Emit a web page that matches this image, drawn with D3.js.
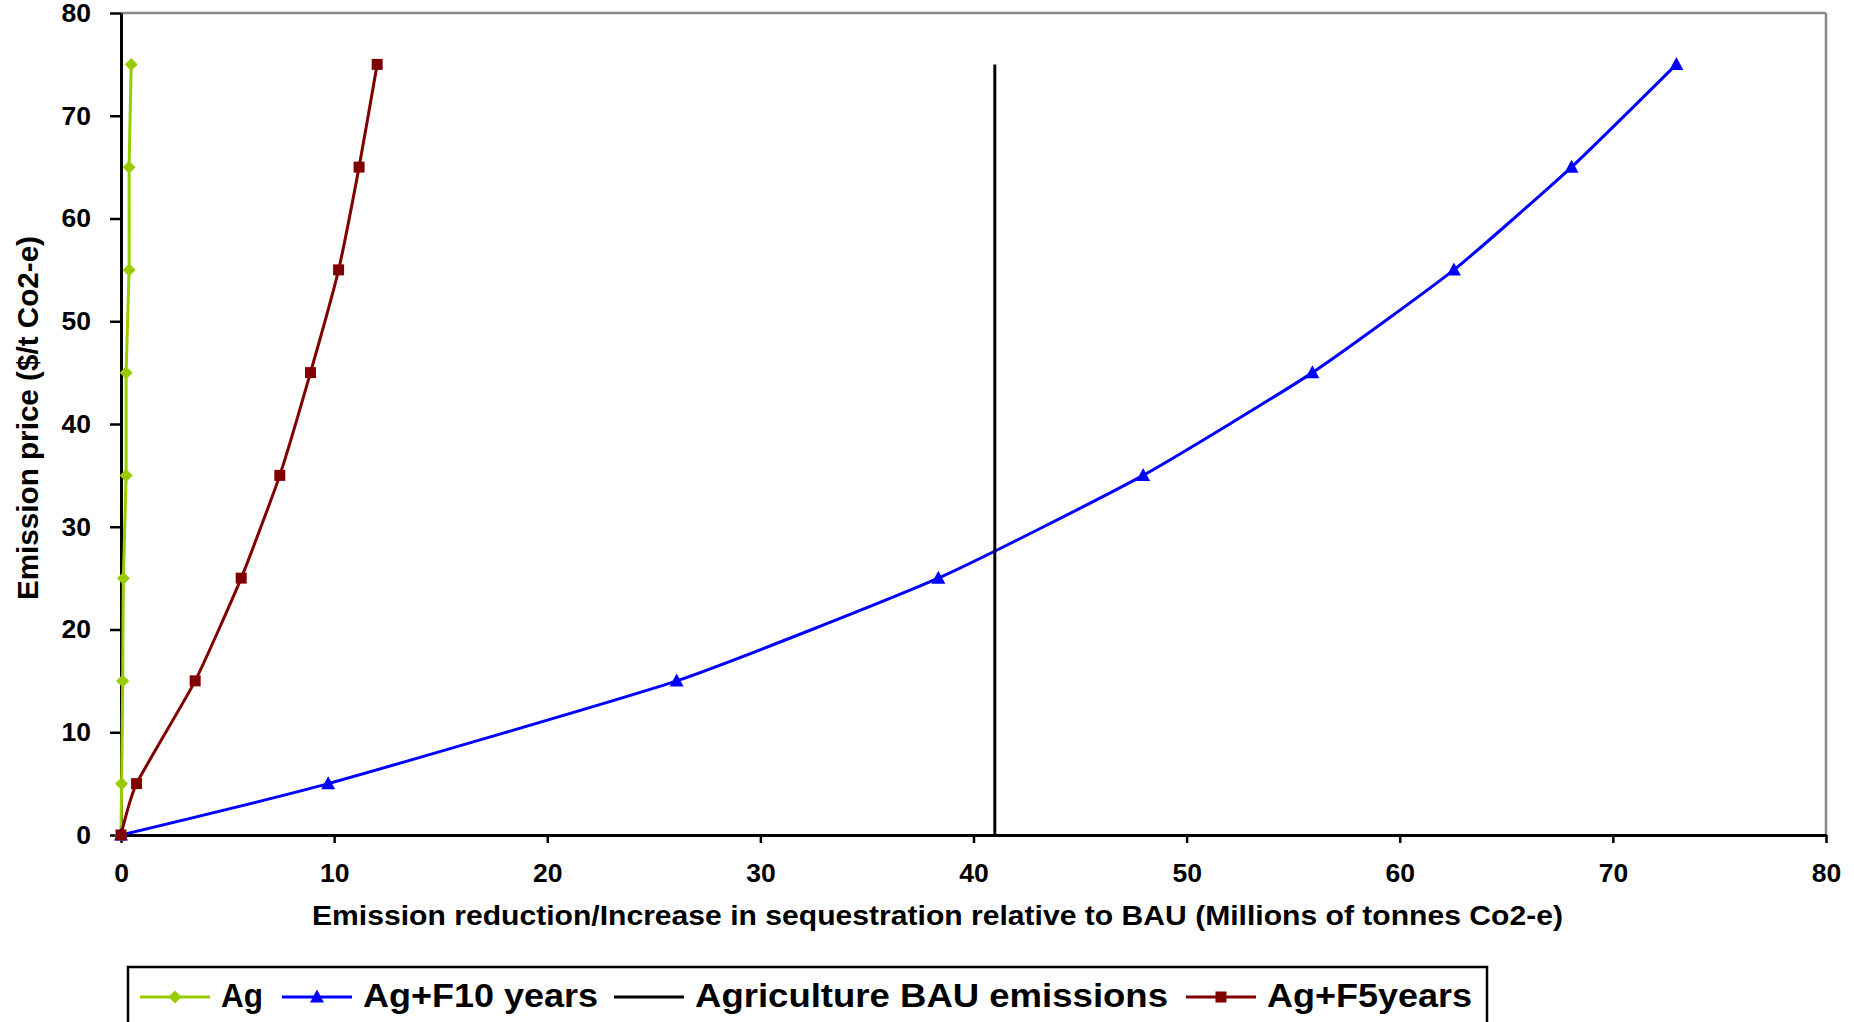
<!DOCTYPE html>
<html>
<head>
<meta charset="utf-8">
<script src="https://cdn.jsdelivr.net/npm/d3@7"></script>
<style>
  html, body { margin: 0; padding: 0; background: #fff; overflow: hidden; }
  svg { display: block; font-family: "Liberation Sans", Arial, sans-serif; }
</style>
</head>
<body>
<svg id="chart" width="1854" height="1022"></svg>
<script>
// ---- Data ----
const prices = [0, 5, 15, 25, 35, 45, 55, 65, 75];
const agValues = [0, 0.03, 0.08, 0.11, 0.24, 0.24, 0.38, 0.38, 0.48];
const agF10Values = [0, 9.72, 26.07, 38.35, 47.96, 55.9, 62.54, 68.06, 72.98];
const agF5Values = [0, 0.73, 3.48, 5.64, 7.45, 8.89, 10.21, 11.17, 12.02];
const bauX = [41, 41];
const bauY = [0, 75];
const xTicks = [0, 10, 20, 30, 40, 50, 60, 70, 80];
const yTicks = [0, 10, 20, 30, 40, 50, 60, 70, 80];
const seriesNames = ["Ag", "Ag+F10 years", "Agriculture BAU emissions", "Ag+F5years"];
const xTitle = "Emission reduction/Increase in sequestration relative to BAU (Millions of tonnes Co2-e)";
const yTitle = "Emission price ($/t Co2-e)";

// ---- Layout ----
const svg = d3.select("#chart");
const L = 121, R = 1826, T = 13, B = 835;
const x = d3.scaleLinear().domain([0, 80]).range([L, R]);
const y = d3.scaleLinear().domain([0, 80]).range([B, T]);

const colors = { ag: "#99CC00", f10: "#0000FF", bau: "#000000", f5: "#800000" };

// plot frame (gray top/right)
svg.append("line").attr("x1", L).attr("x2", R).attr("y1", T).attr("y2", T)
  .attr("stroke", "#888").attr("stroke-width", 2.5);
svg.append("line").attr("x1", R).attr("x2", R).attr("y1", T).attr("y2", B)
  .attr("stroke", "#888").attr("stroke-width", 2.5);

// axes
const xAxis = svg.append("g").attr("transform", `translate(0,${B})`)
  .call(d3.axisBottom(x).tickValues(xTicks).tickSize(8).tickPadding(20).tickSizeOuter(0));
const yAxis = svg.append("g").attr("transform", `translate(${L},0)`)
  .call(d3.axisLeft(y).tickValues(yTicks).tickSize(11).tickPadding(19).tickSizeOuter(0));
[xAxis, yAxis].forEach(g => {
  g.select(".domain").attr("stroke", "#000").attr("stroke-width", 3);
  g.selectAll(".tick line").attr("stroke", "#000").attr("stroke-width", 2.5);
  g.selectAll(".tick text").attr("fill", "#000").attr("font-size", 26.5).attr("font-weight", "bold")
    .attr("font-family", "Liberation Sans, Arial, sans-serif");
});

// titles
svg.append("text").attr("x", 312).attr("y", 925)
  .attr("font-size", 28.5).attr("font-weight", "bold")
  .attr("textLength", 1251).attr("lengthAdjust", "spacingAndGlyphs")
  .text(xTitle);
svg.append("text").attr("transform", `translate(38,600) rotate(-90)`)
  .attr("font-size", 29).attr("font-weight", "bold")
  .attr("textLength", 364).attr("lengthAdjust", "spacingAndGlyphs")
  .text(yTitle);

// markers
function markerPath(type) {
  if (type === "diamond") return "M0,-6.5L6.5,0L0,6.5L-6.5,0Z";
  if (type === "triangle") return "M0,-7.5L7,5.5L-7,5.5Z";
  if (type === "square") return "M-5.5,-5.5L5.5,-5.5L5.5,5.5L-5.5,5.5Z";
  return "";
}

const line = d3.line().x(d => x(d[0])).y(d => y(d[1])).curve(d3.curveCardinal.tension(0.5));

function drawSeries(xs, ys, color, marker) {
  const pts = xs.map((v, i) => [v, ys[i]]);
  svg.append("path").datum(pts).attr("d", line).attr("fill", "none")
    .attr("stroke", color).attr("stroke-width", 3);
  if (marker) {
    svg.append("g").selectAll("path").data(pts).join("path")
      .attr("transform", d => `translate(${x(d[0])},${y(d[1])})`)
      .attr("d", markerPath(marker)).attr("fill", color);
  }
}

drawSeries(agValues, prices, colors.ag, "diamond");
drawSeries(agF10Values, prices, colors.f10, "triangle");
drawSeries(bauX, bauY, colors.bau, null);
drawSeries(agF5Values, prices, colors.f5, "square");

// legend
svg.append("rect").attr("x", 128).attr("y", 967).attr("width", 1359).attr("height", 80)
  .attr("fill", "#fff").attr("stroke", "#000").attr("stroke-width", 2.5);
const legendItems = [
  { name: seriesNames[0], color: colors.ag, marker: "diamond", x0: 140, w: 42 },
  { name: seriesNames[1], color: colors.f10, marker: "triangle", x0: 282, w: 235 },
  { name: seriesNames[2], color: colors.bau, marker: null, x0: 614, w: 473 },
  { name: seriesNames[3], color: colors.f5, marker: "square", x0: 1186, w: 205 }
];
const ly = 997;
const lg = svg.append("g").selectAll("g").data(legendItems).join("g");
lg.append("line").attr("x1", d => d.x0).attr("x2", d => d.x0 + 70)
  .attr("y1", ly).attr("y2", ly).attr("stroke", d => d.color).attr("stroke-width", 3);
lg.filter(d => d.marker).append("path")
  .attr("transform", d => `translate(${d.x0 + 35},${ly})`)
  .attr("d", d => markerPath(d.marker)).attr("fill", d => d.color);
lg.append("text").attr("x", d => d.x0 + 81).attr("y", 1007)
  .attr("font-size", 34).attr("font-weight", "bold").attr("fill", "#000")
  .attr("textLength", d => d.w).attr("lengthAdjust", "spacingAndGlyphs")
  .text(d => d.name);
</script>
</body>
</html>
